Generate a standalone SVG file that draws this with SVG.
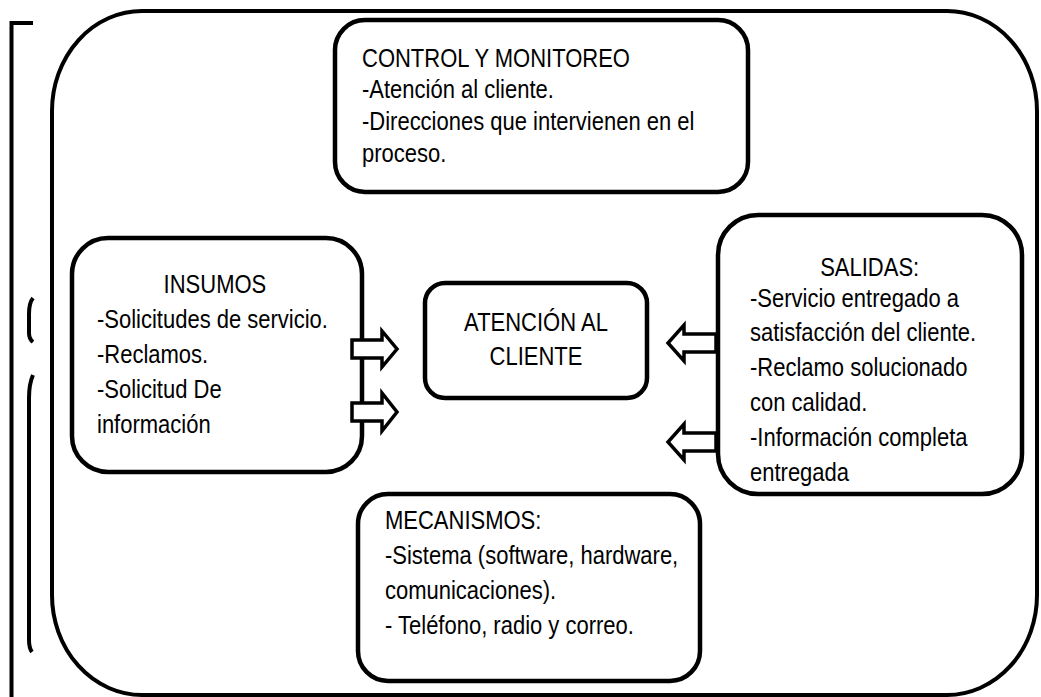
<svg xmlns="http://www.w3.org/2000/svg" width="1041" height="697" viewBox="0 0 1041 697">
<style>
.box{fill:#fff;stroke:#000;stroke-width:4.5}
.frame{fill:none;stroke:#000;stroke-width:4}
.arrow{fill:#fff;stroke:#000;stroke-width:3.5;stroke-linejoin:miter}
text{font-family:"Liberation Sans",Arial,sans-serif;font-size:25px;fill:#000}
.c{text-anchor:middle}
</style>
<rect width="1041" height="697" fill="#fff"/>
<g id="frame">
<path class="frame" d="M33,23 H11.5 V697"/>
<path class="frame" d="M33,298 Q29,303 29,314 V333 Q29,339 33,342" stroke-width="3.5"/>
<path class="frame" d="M33,375 Q29,384 29,398 V640 Q29,648 32,652" stroke-width="3.5"/>
<rect class="frame" x="52" y="11" width="985" height="684" rx="90" ry="100"/>
</g>
<g id="control">
<rect class="box" x="335" y="20" width="413" height="172" rx="30"/>
<g transform="translate(362,0) scale(0.88,1)">
<text x="0" y="67">CONTROL Y MONITOREO</text>
<text x="0" y="98">-Atención al cliente.</text>
<text x="0" y="130">-Direcciones que intervienen en el</text>
<text x="0" y="162">proceso.</text>
</g>
</g>
<g id="insumos">
<rect class="box" x="72" y="238" width="290" height="234" rx="36"/>
<g transform="translate(97,0) scale(0.88,1)">
<text class="c" x="134" y="293">INSUMOS</text>
<text x="0" y="328">-Solicitudes de servicio.</text>
<text x="0" y="363">-Reclamos.</text>
<text x="0" y="398">-Solicitud De</text>
<text x="0" y="433">información</text>
</g>
</g>
<g id="atencion">
<rect class="box" x="425" y="283" width="222" height="115" rx="20"/>
<g transform="translate(536,0) scale(0.88,1)">
<text class="c" x="0" y="331">ATENCIÓN AL</text>
<text class="c" x="0" y="365">CLIENTE</text>
</g>
</g>
<g id="salidas">
<rect class="box" x="718" y="215" width="304" height="279" rx="40"/>
<g transform="translate(750,0) scale(0.88,1)">
<text class="c" x="136" y="276">SALIDAS:</text>
<text x="0" y="307">-Servicio entregado a</text>
<text x="0" y="341">satisfacción del cliente.</text>
<text x="0" y="376">-Reclamo solucionado</text>
<text x="0" y="411">con calidad.</text>
<text x="0" y="446">-Información completa</text>
<text x="0" y="481">entregada</text>
</g>
</g>
<g id="mecanismos">
<rect class="box" x="358" y="494" width="342" height="187" rx="30"/>
<g transform="translate(385,0) scale(0.88,1)">
<text x="0" y="529">MECANISMOS:</text>
<text x="0" y="564">-Sistema (software, hardware,</text>
<text x="0" y="599">comunicaciones).</text>
<text x="0" y="634">- Teléfono, radio y correo.</text>
</g>
</g>
<g id="connectors">
<polygon class="arrow" points="352,340 382,340 382,331 397,349 382,367 382,358 352,358"/>
<polygon class="arrow" points="352,403 382,403 382,393 397,412 382,431 382,421 352,421"/>
<polygon class="arrow" points="716,334 684,334 684,325 668,343 684,361 684,352 716,352"/>
<polygon class="arrow" points="716,433 684,433 684,424 668,442 684,460 684,451 716,451"/>
</g>
</svg>
